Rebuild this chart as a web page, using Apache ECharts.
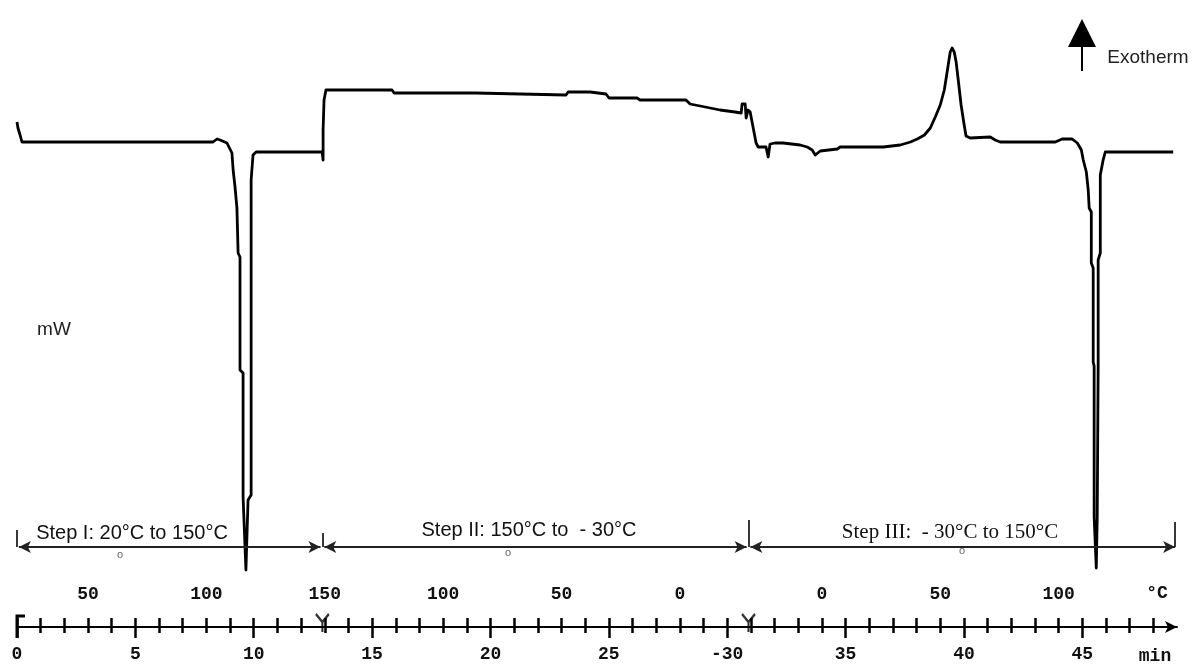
<!DOCTYPE html>
<html>
<head>
<meta charset="utf-8">
<script src="https://cdn.jsdelivr.net/npm/echarts@6/dist/echarts.min.js"></script>
<style>
html,body{margin:0;padding:0;background:#fff;}
#chart{width:1195px;height:666px;}
</style>
</head>
<body>
<div id="chart"></div>
<script>
// ---- data (time in min, heat flow in arbitrary mW units) ----
const timeMin = [
  0, 0.04, 0.13, 0.21, 8.28, 8.45, 8.58, 8.87, 9.08, 9.13, 9.21, 9.29, 9.34, 9.42, 9.42, 9.55, 9.55, 9.67, 9.76, 9.89, 9.89, 9.97, 10.10, 12.89,
  12.93, 12.93, 12.97, 13.05,
  15.84, 15.93, 19.35, 19.43, 23.19, 23.28, 24.21, 24.29, 24.88, 25.01, 26.19, 26.32, 28.26, 28.43, 28.86, 29.28, 29.70, 30.33, 30.59, 30.63, 30.76, 30.80, 30.88, 30.97,
  31.05, 31.14, 31.22, 31.31, 31.64, 31.73, 31.81, 32.02, 32.36, 33.08, 33.38, 33.59, 33.72, 33.93, 34.65, 34.77, 36.59, 37.31, 37.74, 38.03, 38.33, 38.58, 38.79,
  39.00, 39.17, 39.29, 39.42, 39.50, 39.59, 39.67, 39.76, 39.88, 40.01, 40.09, 40.26, 41.11, 41.32, 41.53, 43.86, 44.15, 44.57, 44.79, 44.96, 45.04, 45.17, 45.25,
  45.29, 45.38, 45.38, 45.46, 45.46, 45.50, 45.50, 45.59, 45.63, 45.67, 45.67, 45.76, 45.76, 45.88, 45.97, 48.84
];
const heatFlow = [
  47.8, 47.2, 46.5, 45.8, 45.8, 46.1, 46.0, 45.7, 44.7, 43.0, 41.3, 39.2, 34.7, 34.3, 23.0, 22.7, 10.3, 3.0, 10.0, 10.5, 42.0, 44.5, 44.8, 44.8,
  44.0, 47.0, 50.0, 51.0,
  51.0, 50.7, 50.7, 50.5, 50.5, 50.8, 50.8, 50.6, 50.6, 50.2, 50.2, 50.0, 50.0, 49.6, 49.4, 49.2, 49.0, 48.8, 48.7, 49.6, 49.6, 48.2, 49.0, 48.8,
  47.8, 46.7, 45.7, 45.3, 45.3, 44.3, 45.6, 45.7, 45.7, 45.5, 45.3, 45.0, 44.5, 44.9, 45.1, 45.3, 45.3, 45.5, 45.8, 46.1, 46.5, 47.2, 48.3,
  49.5, 51.0, 52.8, 54.8, 55.2, 54.8, 53.8, 52.0, 49.5, 47.5, 46.4, 46.2, 46.3, 46.0, 45.8, 45.8, 46.1, 46.1, 45.7, 45.0, 44.0, 42.8, 41.0,
  39.2, 38.8, 33.7, 33.2, 23.8, 23.4, 8.3, 3.2, 8.3, 23.5, 34.0, 34.7, 42.5, 44.0, 44.8, 44.8
];
const minuteTicks = [0,1,2,3,4,5,6,7,8,9,10,11,12,13,14,15,16,17,18,19,20,21,22,23,24,25,26,27,28,29,30,31,32,33,34,35,36,37,38,39,40,41,42,43,44,45,46,47,48];
const timeTicks = [0, 5, 10, 15, 20, 25, 30, 35, 40, 45];
const timeTickLabels = ['0', '5', '10', '15', '20', '25', '-30', '35', '40', '45'];
const tempLabelPos = [3, 8, 13, 18, 23, 28, 34, 39, 44];
const tempLabels = ['50', '100', '150', '100', '50', '0', '0', '50', '100'];
const stepBounds = [0, 12.9, 30.9, 48.92];
const stepLabels = ['Step I: 20°C to 150°C', 'Step II: 150°C to  - 30°C', 'Step III:  - 30°C to 150°C'];

// ---- chart ----
const chart = echarts.init(document.getElementById('chart'), null, {renderer: 'canvas'});
const curve = timeMin.map((t, i) => [t, heatFlow[i]]);

const arrowLevel = 5.3;
const gap = 0.08;
const tickTops = [7.0, 6.7, 8.0, 7.8];
const markData = [];
for (let i = 0; i < 3; i++) {
  markData.push([
    {coord: [stepBounds[i] + gap, arrowLevel], symbol: 'arrow'},
    {coord: [stepBounds[i + 1] - (i === 2 ? 0 : gap), arrowLevel], symbol: 'arrow'}
  ]);
}
stepBounds.forEach((b, i) => {
  markData.push([
    {coord: [b, arrowLevel], symbol: 'none'},
    {coord: [b, tickTops[i]], symbol: 'none'}
  ]);
});

const monoLabel = {fontFamily: 'Liberation Mono', fontWeight: 'bold', fontSize: 18, color: '#111'};

const option = {
  animation: false,
  backgroundColor: '#fff',
  grid: {left: 17, right: 18, top: 0, bottom: 39, containLabel: false},
  xAxis: [
    {
      type: 'value', min: 0, max: 49, position: 'bottom',
      axisLine: {show: true, onZero: false, lineStyle: {color: '#000', width: 2}, symbol: ['none', 'arrow'], symbolSize: [9, 12]},
      axisTick: {show: true, customValues: minuteTicks, inside: true, length: 9, lineStyle: {color: '#000', width: 2.5}},
      axisLabel: {show: true, customValues: timeTicks, margin: 18,
        formatter: v => { const k = timeTicks.indexOf(v); return k >= 0 ? timeTickLabels[k] : ''; },
        ...monoLabel},
      splitLine: {show: false}
    },
    {
      type: 'value', min: 0, max: 49, position: 'bottom',
      axisLine: {show: false, onZero: false},
      axisTick: {show: true, customValues: minuteTicks, inside: false, length: 6, lineStyle: {color: '#000', width: 2.5}},
      axisLabel: {show: false},
      splitLine: {show: false}
    },
    {
      type: 'value', min: 0, max: 49, position: 'bottom',
      axisLine: {show: false, onZero: false},
      axisTick: {show: true, customValues: timeTicks, inside: false, length: 11, lineStyle: {color: '#000', width: 2.5}},
      axisLabel: {show: false},
      splitLine: {show: false}
    },
    {
      type: 'value', min: 0, max: 49, position: 'bottom',
      axisLine: {show: false, onZero: false},
      axisTick: {show: false},
      axisLabel: {show: true, inside: true, customValues: tempLabelPos, margin: 24,
        formatter: v => { const k = tempLabelPos.indexOf(v); return k >= 0 ? tempLabels[k] : ''; },
        ...monoLabel},
      splitLine: {show: false}
    }
  ],
  yAxis: {
    type: 'value', min: -2.7, max: 60, show: false, splitLine: {show: false}
  },
  series: [
    {
      type: 'line', data: curve, xAxisIndex: 0, yAxisIndex: 0,
      showSymbol: false, symbol: 'none', smooth: false,
      lineStyle: {color: '#000', width: 2.8, join: 'round'},
      silent: true,
      markLine: {
        silent: true, animation: false,
        symbolSize: [9, 12],
        label: {show: false},
        lineStyle: {color: '#222', width: 1.8, type: 'solid'},
        data: markData
      }
    },
    {
      type: 'scatter', xAxisIndex: 0, yAxisIndex: 0,
      data: stepBounds.slice(1, 3).map(b => [b, -2.3]),
      symbol: 'path://M0,0 L6,8 L12,0 M6,8 L6,18',
      symbolSize: [13, 18],
      itemStyle: {color: 'none', borderColor: '#000', borderWidth: 2.5},
      silent: true
    }
  ],
  graphic: [
    {type: 'polyline', shape: {points: [[25, 616], [17, 616], [17, 638]]}, style: {stroke: '#000', lineWidth: 3, fill: null}},
    {type: 'text', x: 54, y: 330, style: {text: 'mW', font: '19px "Liberation Sans"', fill: '#222', align: 'center', verticalAlign: 'middle'}},
    {type: 'polygon', shape: {points: [[1068, 47], [1082, 19], [1096, 47]]}, style: {fill: '#000'}},
    {type: 'line', shape: {x1: 1082, y1: 46, x2: 1082, y2: 71}, style: {stroke: '#000', lineWidth: 2}},
    {type: 'text', x: 1148, y: 58, style: {text: 'Exotherm', font: '19px "Liberation Sans"', fill: '#222', align: 'center', verticalAlign: 'middle'}},
    {type: 'text', x: 132, y: 533, style: {text: stepLabels[0], font: '20px "Liberation Sans"', fill: '#111', align: 'center', verticalAlign: 'middle'}},
    {type: 'text', x: 529, y: 530, style: {text: stepLabels[1], font: '20px "Liberation Sans"', fill: '#111', align: 'center', verticalAlign: 'middle'}},
    {type: 'text', x: 950, y: 532, style: {text: stepLabels[2], font: '21px "Liberation Serif"', fill: '#111', align: 'center', verticalAlign: 'middle'}},
    {type: 'text', x: 120, y: 555, style: {text: 'o', font: '11px "Liberation Sans"', fill: '#666', align: 'center', verticalAlign: 'middle'}},
    {type: 'text', x: 508, y: 553, style: {text: 'o', font: '11px "Liberation Sans"', fill: '#666', align: 'center', verticalAlign: 'middle'}},
    {type: 'text', x: 962, y: 551, style: {text: 'o', font: '11px "Liberation Sans"', fill: '#666', align: 'center', verticalAlign: 'middle'}},
    {type: 'text', x: 1157, y: 593, style: {text: '°C', font: 'bold 18px "Liberation Mono"', fill: '#111', align: 'center', verticalAlign: 'middle'}},
    {type: 'text', x: 1155, y: 656, style: {text: 'min', font: 'bold 18px "Liberation Mono"', fill: '#111', align: 'center', verticalAlign: 'middle'}}
  ]
};
chart.setOption(option);
</script>
</body>
</html>
